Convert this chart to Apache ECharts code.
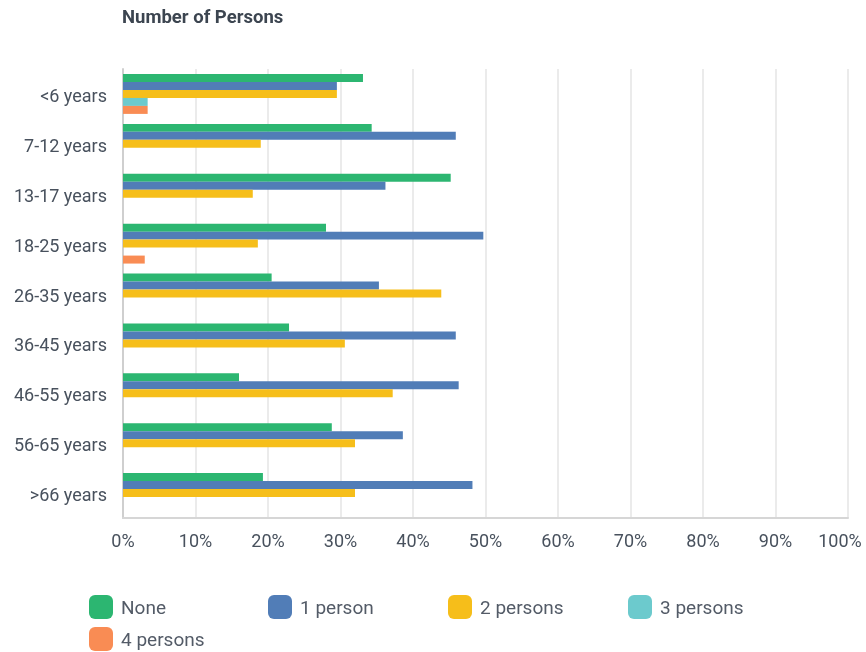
<!DOCTYPE html>
<html>
<head>
<meta charset="utf-8">
<script src="https://cdn.jsdelivr.net/npm/echarts@6/dist/echarts.min.js"></script>
<style>
  html, body { margin: 0; padding: 0; background: #ffffff; }
  #chart { width: 866px; height: 652px; }
</style>
</head>
<body>
<div id="chart"></div>
<script>
// Age groups, listed top to bottom
const ageGroups = ['<6 years', '7-12 years', '13-17 years', '18-25 years', '26-35 years',
                   '36-45 years', '46-55 years', '56-65 years', '>66 years'];

// Share of respondents (%) by number of persons in household
const noneValues    = [33.1, 34.3, 45.2, 28.0, 20.5, 22.9, 16.0, 28.8, 19.3];
const onePerson     = [29.5, 45.9, 36.2, 49.7, 35.3, 45.9, 46.3, 38.6, 48.2];
const twoPersons    = [29.5, 19.0, 17.9, 18.6, 43.9, 30.6, 37.2, 32.0, 32.0];
const threePersons  = [3.4, 0, 0, 0, 0, 0, 0, 0, 0];
const fourPersons   = [3.4, 0, 0, 3.0, 0, 0, 0, 0, 0];

const xTicks = [0, 10, 20, 30, 40, 50, 60, 70, 80, 90, 100];

const seriesNames  = ['None', '1 person', '2 persons', '3 persons', '4 persons'];
const seriesValues = [noneValues, onePerson, twoPersons, threePersons, fourPersons];
const seriesColors = ['#2cb671', '#517db7', '#f6be1a', '#6ccacd', '#f98c54'];

const FONT = 'Roboto, "Noto Sans", sans-serif';
const TEXT = '#48515d';

// one legend block per entry so the columns sit on a fixed pitch
const legendSpots = [
  { left: 89,  top: 595 },
  { left: 268, top: 595 },
  { left: 448, top: 595 },
  { left: 628, top: 595 },
  { left: 89,  top: 627 }
];
const legends = seriesNames.map((name, i) => ({
  data: [name],
  left: legendSpots[i].left,
  top: legendSpots[i].top,
  orient: 'horizontal',
  padding: 0,
  icon: 'roundRect',
  itemWidth: 24,
  itemHeight: 24,
  selectedMode: false,
  formatter: n => '{t|' + n + '}',
  textStyle: {
    fontFamily: FONT, fontSize: 19, color: '#535b67',
    rich: { t: { fontFamily: FONT, fontSize: 19, color: '#535b67', padding: [4, 0, 0, 3] } }
  }
}));

const xMax = xTicks[xTicks.length - 1];

const chart = echarts.init(document.getElementById('chart'), null, { renderer: 'canvas' });
chart.setOption({
  animation: false,
  backgroundColor: '#ffffff',
  color: seriesColors,
  title: {
    text: 'Number of Persons',
    left: 122,
    top: 9,
    padding: 0,
    textStyle: { fontFamily: FONT, fontSize: 18.5, fontWeight: 'bold', color: '#3c4550' }
  },
  legend: legends,
  grid: { left: 123, right: 18, top: 69, bottom: 134, containLabel: false, outerBoundsMode: 'none' },
  xAxis: {
    type: 'value',
    min: xTicks[0],
    max: xMax,
    interval: 10,
    axisLine: { show: true, lineStyle: { color: '#d6d6d6', width: 2 } },
    axisTick: { show: false },
    splitLine: { show: true, lineStyle: { color: '#ebebeb', width: 2 } },
    axisLabel: {
      margin: 15,
      fontFamily: FONT,
      fontSize: 18,
      color: TEXT,
      // the last label is nudged left so it stays inside the canvas
      formatter: v => (v === xMax ? '{end|' + v + '%}' : v + '%'),
      rich: {
        end: { fontFamily: FONT, fontSize: 18, color: TEXT, padding: [0, 16, 0, 0] }
      }
    }
  },
  yAxis: {
    type: 'category',
    data: ageGroups,
    inverse: true,
    axisLine: { show: true, lineStyle: { color: '#cfcfcf', width: 2 } },
    axisTick: { show: false },
    splitLine: { show: false },
    axisLabel: {
      margin: 16,
      formatter: v => '{cat|' + v + '}',
      rich: {
        // extra top padding sits the label slightly below the band centre
        cat: { fontFamily: FONT, fontSize: 18, color: TEXT, padding: [7, 0, 0, 0] }
      }
    }
  },
  series: seriesNames.map((name, i) => ({
    name: name,
    type: 'bar',
    data: seriesValues[i],
    barGap: '0%',
    barCategoryGap: '20%',
    itemStyle: { color: seriesColors[i] }
  }))
});
</script>
</body>
</html>
